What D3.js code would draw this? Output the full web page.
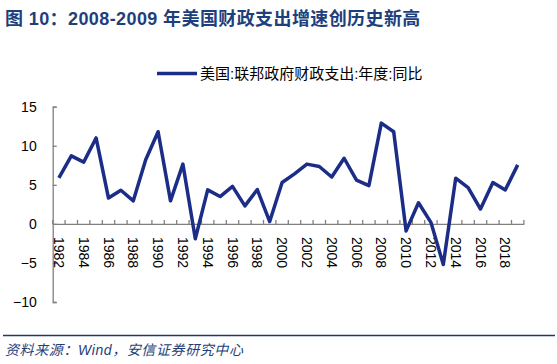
<!DOCTYPE html>
<html><head><meta charset="utf-8">
<script src="https://cdn.jsdelivr.net/npm/d3@7/dist/d3.min.js"></script>
<style>
body{margin:0;background:#fff;}
svg{display:block;}
</style></head>
<body>
<svg id="c" width="557" height="364"></svg>
<script>
const titleText = "图 10：2008-2009 年美国财政支出增速创历史新高";
const seriesName = "美国:联邦政府财政支出:年度:同比";
const sourceText = "资料来源：Wind，安信证券研究中心";
const years = [1982,1983,1984,1985,1986,1987,1988,1989,1990,1991,1992,1993,1994,1995,1996,1997,1998,1999,2000,2001,2002,2003,2004,2005,2006,2007,2008,2009,2010,2011,2012,2013,2014,2015,2016,2017,2018,2019];
const values = [5.9,8.7,7.9,11.0,3.3,4.3,2.95,8.2,11.8,2.95,7.65,-1.9,4.35,3.5,4.8,2.3,4.4,0.3,5.3,6.4,7.65,7.35,6.0,8.4,5.6,4.9,12.9,11.8,-0.9,2.7,0.2,-5.2,5.85,4.65,1.9,5.3,4.35,7.55];
const yTicks = [-10,-5,0,5,10,15];

const svg = d3.select("#c");
const lineColor = "#1c2d87";
const axisColor = "#808080";

// Title
svg.append("text").attr("x",5).attr("y",25)
  .attr("font-family","'Liberation Sans','Noto Sans CJK SC',sans-serif")
  .attr("font-weight","bold").attr("font-size",18).attr("letter-spacing",0.4).attr("fill","#1d3f7c")
  .text(titleText);

// Scales
const x = d3.scaleBand().domain(years).range([52.7,523.9]).paddingInner(0).paddingOuter(0);
const y = d3.scaleLinear().domain([-10,15]).range([302,106.7]);

// Y axis
const yAxis = d3.axisLeft(y).tickValues(yTicks).tickSize(-4).tickPadding(16);
const gy = svg.append("g").attr("transform",`translate(${x.range()[0]},0)`).call(yAxis);
gy.select(".domain").attr("stroke",axisColor).attr("stroke-width",1.3);
gy.selectAll(".tick line").attr("stroke",axisColor).attr("stroke-width",1.3);
gy.selectAll(".tick text").attr("font-family","'Liberation Sans',Arial,sans-serif").attr("font-size",14).attr("fill","#000");

// X axis at y=0
const xAxis = d3.axisBottom(x).tickSize(0).tickFormat(d => d % 2 === 0 ? d : "");
const gx = svg.append("g").attr("transform",`translate(0,${y(0)})`).call(xAxis);
gx.select(".domain").attr("stroke",axisColor).attr("stroke-width",1.3);
gx.selectAll(".tick text")
  .attr("font-family","'Liberation Sans',Arial,sans-serif").attr("font-size",14).attr("fill","#000")
  .attr("transform","rotate(90)").attr("text-anchor","start")
  .attr("x",13).attr("y",0).attr("dy","0.35em");
// boundary tick marks between categories
const bounds = d3.range(years.length+1).map(i => x.range()[0] + i*x.step());
gx.selectAll(".bt").data(bounds).enter().append("line")
  .attr("x1",d=>d).attr("x2",d=>d).attr("y1",0).attr("y2",-4)
  .attr("stroke",axisColor).attr("stroke-width",1.3);

// Line
const line = d3.line().x((d,i)=>x(years[i])+x.bandwidth()/2).y(d=>y(d));
svg.append("path").datum(values).attr("d",line)
  .attr("fill","none").attr("stroke",lineColor).attr("stroke-width",3.5)
  .attr("stroke-linejoin","round");

// Legend
svg.append("line").attr("x1",157).attr("x2",197).attr("y1",73.5).attr("y2",73.5)
  .attr("stroke",lineColor).attr("stroke-width",3.5);
svg.append("text").attr("x",200).attr("y",79)
  .attr("font-family","'Liberation Sans','Noto Sans CJK SC',sans-serif")
  .attr("font-size",15).attr("fill","#000").text(seriesName);

// Footer
svg.append("line").attr("x1",3).attr("x2",555).attr("y1",335.5).attr("y2",335.5)
  .attr("stroke","#1f3864").attr("stroke-width",1.5);
svg.append("text").attr("x",5).attr("y",355)
  .attr("font-family","'Liberation Sans','Noto Sans CJK SC',sans-serif")
  .attr("font-style","italic").attr("font-size",14).attr("letter-spacing",0.6).attr("fill","#1f3f7a")
  .text(sourceText);
</script>
</body></html>
